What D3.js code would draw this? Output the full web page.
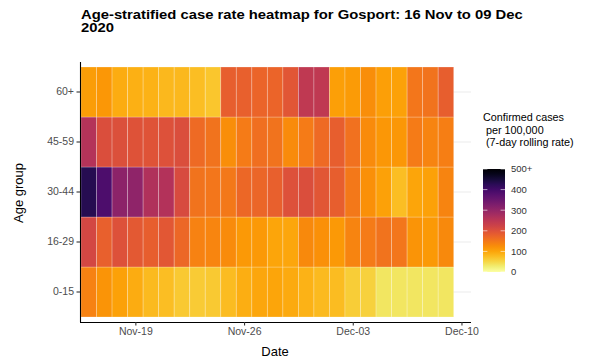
<!DOCTYPE html>
<html>
<head>
<meta charset="utf-8">
<script src="https://cdn.jsdelivr.net/npm/d3@7"></script>
<style>
  html, body { margin: 0; padding: 0; background: #ffffff; }
  svg { display: block; font-family: "Liberation Sans", Arial, Helvetica, sans-serif; }
</style>
</head>
<body>
<svg id="chart" width="589" height="362"></svg>
<script>
// ---- data ----
const startDate = "2020-11-16";
const nDays = 24;
const ageGroups = ["0-15", "16-29", "30-44", "45-59", "60+"];
const rate60plus = [108,114,92,88,86,82,81,76,68,180,178,172,172,192,245,245,106,111,125,106,105,152,155,180];
const rate45to59 = [258,205,203,198,197,200,205,165,155,125,145,160,155,128,145,165,180,158,128,115,115,145,135,142];
const rate30to44 = [430,385,310,305,265,260,210,155,152,150,168,170,178,200,205,192,180,150,122,105,75,100,105,135];
const rate16to29 = [215,178,200,188,180,190,168,138,133,127,112,112,100,98,130,122,112,135,145,155,152,118,112,130];
const rate0to15  = [138,118,105,92,80,75,64,61,64,78,90,98,100,95,86,80,78,60,55,35,35,35,35,35];
const xTickLabels = ["Nov-19", "Nov-26", "Dec-03", "Dec-10"];
const legendTicks = [0, 100, 200, 300, 400, 500];
const legendTickLabels = ["0", "100", "200", "300", "400", "500+"];
const titleLines = ["Age-stratified case rate heatmap for Gosport: 16 Nov to 09 Dec", "2020"];
const legendTitleLines = ["Confirmed cases", " per 100,000", " (7-day rolling rate)"];

// ---- build table ----
const seriesByGroup = {"0-15": rate0to15, "16-29": rate16to29, "30-44": rate30to44, "45-59": rate45to59, "60+": rate60plus};
const parse = d3.timeParse("%Y-%m-%d");
const day0 = parse(startDate);
const dates = d3.range(nDays).map(i => d3.timeDay.offset(day0, i));
const cells = [];
ageGroups.forEach(g => seriesByGroup[g].forEach((v, i) => cells.push({group: g, date: dates[i], value: v})));

const svg = d3.select("#chart");

// ---- layout ----
const panel = {left: 80, right: 471, top: 62, bottom: 322};
const halfDay = 12 * 3600 * 1000;
const x = d3.scaleTime()
  .domain([new Date(+dates[0] - halfDay), new Date(+dates[nDays - 1] + halfDay)])
  .range([81, 453.7]);
const y = d3.scaleBand().domain(ageGroups).range([317, 67]).padding(0);
const color = v => d3.interpolateInferno(1 - Math.min(v, 500) / 500);

// grid lines (horizontal)
svg.append("g").selectAll("line").data(ageGroups).join("line")
  .attr("x1", panel.left).attr("x2", panel.right)
  .attr("y1", d => y(d) + y.bandwidth() / 2).attr("y2", d => y(d) + y.bandwidth() / 2)
  .attr("stroke", "#ebebeb").attr("stroke-width", 1.1);

// tiles
svg.append("g").selectAll("rect").data(cells).join("rect")
  .attr("x", d => x(new Date(+d.date - halfDay)))
  .attr("width", d => x(new Date(+d.date + halfDay)) - x(new Date(+d.date - halfDay)))
  .attr("y", d => y(d.group))
  .attr("height", y.bandwidth())
  .attr("fill", d => color(d.value))
  .attr("stroke", "#ffffff").attr("stroke-opacity", 0.3).attr("stroke-width", 0.8);

// x axis
const xTickDates = xTickLabels.map(s => d3.timeParse("%b-%d-%Y")(s + "-2020"));
const xAxis = d3.axisBottom(x).tickValues(xTickDates).tickFormat((d, i) => xTickLabels[i])
  .tickSize(3.5).tickSizeOuter(0).tickPadding(2.5);
const gx = svg.append("g").attr("transform", `translate(0,${panel.bottom})`).call(xAxis);
gx.select(".domain").attr("d", `M${panel.left},0.5H${panel.right}`).attr("stroke", "#000").attr("stroke-width", 1.1);
gx.selectAll(".tick line").attr("stroke", "#333").attr("stroke-width", 1.1);
gx.selectAll(".tick text").attr("fill", "#4d4d4d").attr("font-size", 10.5).attr("font-family", "Liberation Sans, Arial, sans-serif");

// y axis
const yAxis = d3.axisLeft(y).tickSize(3.5).tickSizeOuter(0).tickPadding(2.5);
const gy = svg.append("g").attr("transform", `translate(${panel.left},0)`).call(yAxis);
gy.select(".domain").attr("d", `M0.5,${panel.top}V${panel.bottom}`).attr("stroke", "#000").attr("stroke-width", 1.1);
gy.selectAll(".tick line").attr("stroke", "#333").attr("stroke-width", 1.1);
gy.selectAll(".tick text").attr("fill", "#4d4d4d").attr("font-size", 10.5).attr("font-family", "Liberation Sans, Arial, sans-serif");

// axis titles
svg.append("text").attr("x", 275).attr("y", 356).attr("text-anchor", "middle")
  .attr("font-size", 13).attr("fill", "#000").text("Date");
svg.append("text").attr("transform", "translate(23,193) rotate(-90)").attr("text-anchor", "middle")
  .attr("font-size", 13).attr("fill", "#000").text("Age group");

// title
svg.append("g").selectAll("text").data(titleLines).join("text")
  .attr("transform", (d, i) => `translate(81,${18.5 + i * 13.5}) scale(1.14,1)`)
  .attr("font-size", 13).attr("font-weight", "bold").attr("fill", "#000").text(d => d);

// legend
svg.append("g").selectAll("text").data(legendTitleLines).join("text")
  .attr("x", 483).attr("y", (d, i) => 121 + i * 12.5)
  .style("white-space", "pre")
  .attr("font-size", 10.8).attr("fill", "#000").text(d => d);

const ly = d3.scaleLinear().domain([0, 500]).range([272, 169]);
const defs = svg.append("defs");
const grad = defs.append("linearGradient").attr("id", "lg").attr("x1", 0).attr("y1", 1).attr("x2", 0).attr("y2", 0);
d3.range(0, 1.0001, 0.05).forEach(t => grad.append("stop").attr("offset", t).attr("stop-color", color(t * 500)));
svg.append("rect").attr("x", 483).attr("y", ly(500)).attr("width", 22).attr("height", ly(0) - ly(500)).attr("fill", "url(#lg)");
const lt = svg.append("g");
lt.selectAll("line.l").data(legendTicks).join("line").attr("class", "l")
  .attr("x1", 483).attr("x2", 487.4).attr("y1", d => ly(d)).attr("y2", d => ly(d))
  .attr("stroke", "#fff").attr("stroke-opacity", 0.6).attr("stroke-width", 1);
lt.selectAll("line.r").data(legendTicks).join("line").attr("class", "r")
  .attr("x1", 500.6).attr("x2", 505).attr("y1", d => ly(d)).attr("y2", d => ly(d))
  .attr("stroke", "#fff").attr("stroke-opacity", 0.6).attr("stroke-width", 1);
lt.selectAll("text").data(legendTicks).join("text")
  .attr("x", 511).attr("y", d => ly(d)).attr("dy", "0.35em")
  .attr("font-size", 9.5).attr("fill", "#333").text((d, i) => legendTickLabels[i]);
</script>
</body>
</html>
